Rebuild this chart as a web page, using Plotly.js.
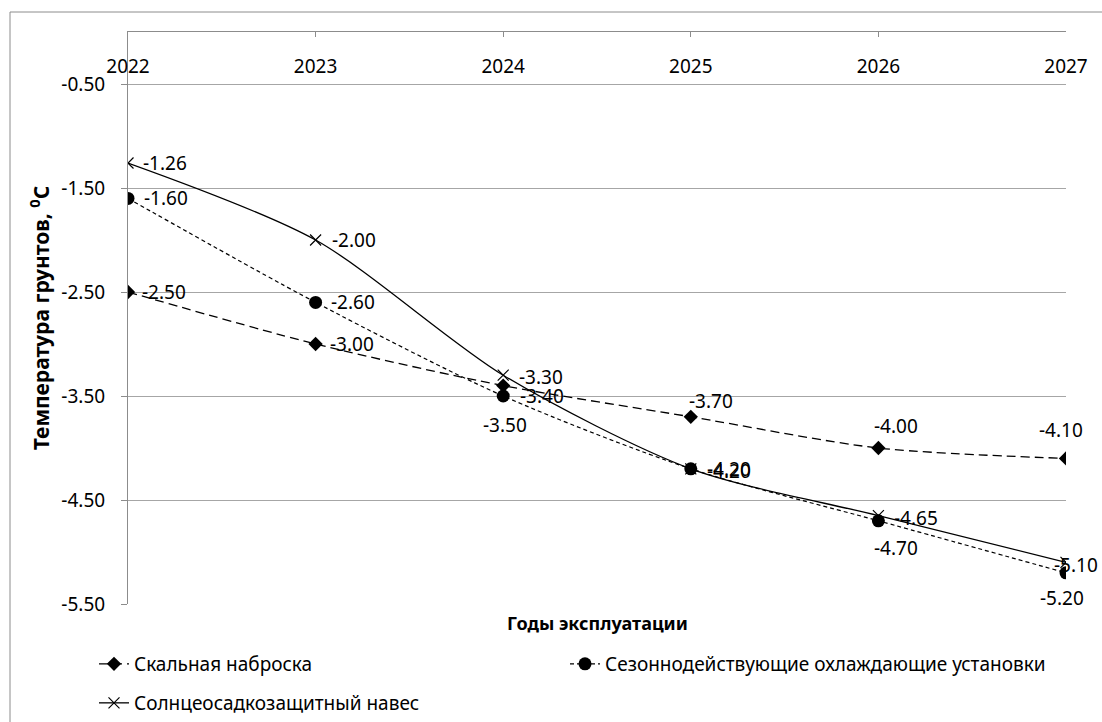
<!DOCTYPE html>
<html>
<head>
<meta charset="utf-8">
<script src="https://cdn.plot.ly/plotly-3.0.1.min.js"></script>
<style>
  html, body { margin: 0; padding: 0; background: #ffffff; overflow: hidden; }
  #chart { width: 1102px; height: 722px; }
</style>
</head>
<body>
<div id="chart"></div>
<script>
// ---- data ----
const years = [2022, 2023, 2024, 2025, 2026, 2027];
const rockFill = [-2.50, -3.00, -3.40, -3.70, -4.00, -4.10];
const coolingUnits = [-1.60, -2.60, -3.50, -4.20, -4.70, -5.20];
const sunShelter = [-1.26, -2.00, -3.30, -4.20, -4.65, -5.10];
const seriesNames = [
  'Скальная наброска',
  'Сезоннодействующие охлаждающие установки',
  'Солнцеосадкозащитный навес'
];
const yTicks = [-0.5, -1.5, -2.5, -3.5, -4.5, -5.5];
const xTitle = 'Годы эксплуатации';
const yTitle = 'Температура грунтов, <sup>0</sup>C';

// ---- styling ----
const FONT = 'Noto Sans, Open Sans, DejaVu Sans, sans-serif';
const FS = 19;
const fmt = v => v.toFixed(2);

// data-label placement (style only): [xanchor, xshift px, yshift px]
const rockLbl = [['left', 12, 0], ['left', 12, 0], ['left', 15, -10], ['center', 20, 16], ['center', 18, 22], ['center', -5, 28]];
const coolLbl = [['left', 14, 0], ['left', 13, 0], ['center', 2, -29], ['left', 14, -2], ['center', 18, -27], ['center', -4, -25]];
const sunLbl  = [['left', 13, 0], ['left', 14, 0], ['left', 14, -2], ['left', 14, 0], ['left', 14, -2], ['right', 34, -3]];

const traces = [
  {
    x: years, y: rockFill, name: seriesNames[0], type: 'scatter', mode: 'lines+markers',
    line: { color: '#000', width: 1.3, dash: '9px,5px', shape: 'spline', smoothing: 0.8 },
    marker: { symbol: 'diamond', size: 11, color: '#000' },
    legend: 'legend', legendwidth: 426, hoverinfo: 'x+y'
  },
  {
    x: years, y: coolingUnits, name: seriesNames[1], type: 'scatter', mode: 'lines+markers',
    line: { color: '#000', width: 1.2, dash: '4px,3px', shape: 'spline', smoothing: 0.8 },
    marker: { symbol: 'circle', size: 13, color: '#000' },
    legend: 'legend', legendwidth: 470, hoverinfo: 'x+y'
  },
  {
    x: years, y: sunShelter, name: seriesNames[2], type: 'scatter', mode: 'lines+markers',
    line: { color: '#000', width: 1.3, shape: 'spline', smoothing: 0.8 },
    marker: { symbol: 'x-thin', size: 11, color: '#000', line: { color: '#000', width: 1.2 } },
    legend: 'legend2', hoverinfo: 'x+y'
  }
];

function labels(values, placement) {
  return values.map((v, i) => ({
    x: years[i], y: v, xref: 'x', yref: 'y',
    text: fmt(v), showarrow: false,
    xanchor: placement[i][0], yanchor: 'middle',
    xshift: placement[i][1], yshift: placement[i][2],
    font: { family: FONT, size: FS, color: '#000' }
  }));
}

const W = 1102, H = 722;
const mL = 128, mR = 36, mT = 32, mB = 118;
const pw = W - mL - mR, ph = H - mT - mB;
const px = x => (x - mL) / pw;          // pixel x -> paper x
const py = y => (H - mB - y) / ph;      // pixel y -> paper y
const cy = y => (H - y) / H;            // pixel y -> container y

const layout = {
  width: W, height: H,
  margin: { l: mL, r: mR, t: mT, b: mB, pad: 0 },
  paper_bgcolor: '#ffffff', plot_bgcolor: '#ffffff',
  font: { family: FONT, size: FS, color: '#000' },
  showlegend: true,
  xaxis: {
    type: 'linear', range: [2022, 2027], side: 'top',
    tickvals: years, ticktext: years.map(String),
    ticks: 'inside', ticklen: 5, tickcolor: '#8c8c8c', tickwidth: 1,
    ticklabelposition: 'inside', ticklabeloverflow: 'allow', ticklabelstandoff: 24,
    showline: true, linecolor: '#8c8c8c', linewidth: 1,
    showgrid: false, zeroline: false, fixedrange: true,
    tickfont: { family: FONT, size: FS, color: '#000' },
    automargin: false
  },
  yaxis: {
    range: [-5.5, 0],
    tickvals: yTicks, ticktext: yTicks.map(fmt),
    ticks: 'outside', ticklen: 6, tickcolor: '#8c8c8c', tickwidth: 1,
    ticklabelstandoff: 12,
    showline: true, linecolor: '#8c8c8c', linewidth: 1,
    showgrid: true, gridcolor: '#a6a6a6', gridwidth: 1,
    zeroline: false, fixedrange: true,
    tickfont: { family: FONT, size: FS, color: '#000' },
    title: { text: yTitle, font: { family: FONT, size: 21, color: '#000', weight: 'bold' }, standoff: 6 },
    automargin: false
  },
  legend: {
    orientation: 'h', xref: 'paper', yref: 'paper',
    x: px(94), y: py(664), xanchor: 'left', yanchor: 'middle',
    font: { family: FONT, size: FS, color: '#000' },
    bgcolor: 'rgba(0,0,0,0)', borderwidth: 0, traceorder: 'normal'
  },
  legend2: {
    orientation: 'h', xref: 'paper', yref: 'container',
    x: px(94), y: cy(703), xanchor: 'left', yanchor: 'middle',
    font: { family: FONT, size: FS, color: '#000' },
    bgcolor: 'rgba(0,0,0,0)', borderwidth: 0
  },
  annotations: [
    {
      text: '<b>' + xTitle + '</b>', xref: 'paper', yref: 'paper',
      x: 0.5, y: py(623), xanchor: 'center', yanchor: 'middle', showarrow: false,
      font: { family: FONT, size: 18, color: '#000' }
    }
  ].concat(labels(rockFill, rockLbl), labels(coolingUnits, coolLbl), labels(sunShelter, sunLbl)),
  shapes: [
    {
      type: 'rect', xref: 'paper', yref: 'paper', layer: 'below',
      x0: px(10), x1: px(1110), y0: py(740), y1: py(12),
      line: { color: '#8c8c8c', width: 1 }, fillcolor: 'rgba(0,0,0,0)'
    }
  ]
};

Plotly.newPlot('chart', traces, layout, { displayModeBar: false, staticPlot: true });
</script>
</body>
</html>
